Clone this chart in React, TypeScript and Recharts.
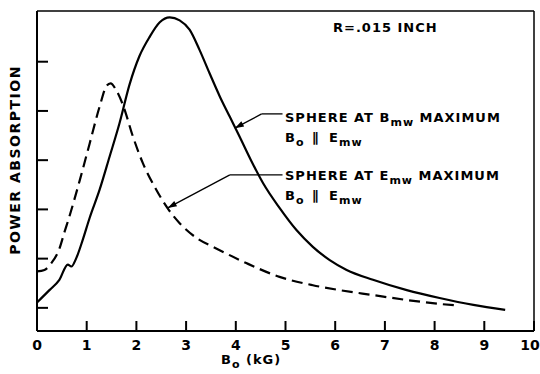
import React from 'react';
import { LineChart, Line, XAxis, YAxis, ReferenceLine } from 'recharts';

// B0 (kG) vs power absorption
const solidX = [0, 0.25, 0.45, 0.62, 0.69, 0.79, 0.92, 1.06, 1.26, 1.46, 1.66, 1.86, 2.06, 2.27, 2.47, 2.67, 2.87, 3.07, 3.27, 3.47, 3.68, 3.88, 4.08, 4.3, 4.55, 4.88, 5.22, 5.55, 5.89, 6.23, 6.76, 7.44, 8.1, 8.78, 9.42];
const solidY = [0.58, 0.83, 1.04, 1.35, 1.31, 1.48, 1.85, 2.3, 2.87, 3.54, 4.22, 5.0, 5.58, 5.98, 6.27, 6.37, 6.31, 6.12, 5.71, 5.24, 4.76, 4.35, 3.94, 3.48, 3.0, 2.5, 2.05, 1.71, 1.44, 1.24, 1.04, 0.83, 0.67, 0.53, 0.43];

const dashedX = [0, 0.15, 0.29, 0.45, 0.55, 0.65, 0.86, 1.06, 1.26, 1.4, 1.48, 1.6, 1.73, 1.93, 2.13, 2.4, 2.63, 2.87, 3.27, 3.54, 4.21, 4.88, 5.55, 6.09, 6.76, 7.44, 8.1, 8.45];
const dashedY = [1.21, 1.24, 1.38, 1.67, 2.0, 2.32, 3.06, 3.81, 4.56, 4.98, 5.03, 4.88, 4.59, 3.95, 3.41, 2.87, 2.49, 2.19, 1.85, 1.71, 1.38, 1.1, 0.93, 0.83, 0.73, 0.63, 0.55, 0.52];

const xTicks = [0, 1, 2, 3, 4, 5, 6, 7, 8, 9, 10];
const yTicks = [0.47, 1.47, 2.47, 3.47, 4.47, 5.47];

// leader lines for the two labels: [start, elbow, arrow tip]
const leaderB = [{ x: 4.94, y: 4.41 }, { x: 4.52, y: 4.41 }, { x: 3.98, y: 4.12 }];
const leaderE = [{ x: 4.94, y: 3.17 }, { x: 3.88, y: 3.17 }, { x: 2.63, y: 2.5 }];

const FONT = '"DejaVu Sans", sans-serif';

const toPoints = (xs: number[], ys: number[]) => xs.map((x, i) => ({ x, y: ys[i] }));
const solid = toPoints(solidX, solidY);
const dashed = toPoints(dashedX, dashedY);

const XTick = (props: any) => {
  const { x, y, payload } = props;
  // last label sits on the page edge; nudge it in so it stays whole
  const lx = payload.value === 10 ? x - 4 : x;
  return (
    <g>
      <line x1={x} y1={y} x2={x} y2={y - 10} stroke="#000" strokeWidth={2} />
      <text x={lx} y={y + 19} textAnchor="middle" fontFamily={FONT} fontWeight="bold" fontSize={14} fill="#000">
        {payload.value}
      </text>
    </g>
  );
};

const YTick = (props: any) => {
  const { x, y } = props;
  return <line x1={x} y1={y} x2={x + 11} y2={y} stroke="#000" strokeWidth={2} />;
};

const Plain = (props: any) => (
  <line x1={props.x1} y1={props.y1} x2={props.x2} y2={props.y2} stroke="#000" strokeWidth={1.3} />
);

const Arrow = (props: any) => {
  const { x1, y1, x2, y2 } = props;
  const a = Math.atan2(y2 - y1, x2 - x1);
  const len = 9;
  const w = 3;
  const bx = x2 - len * Math.cos(a);
  const by = y2 - len * Math.sin(a);
  const px = -Math.sin(a) * w;
  const py = Math.cos(a) * w;
  return (
    <g>
      <line x1={x1} y1={y1} x2={x2} y2={y2} stroke="#000" strokeWidth={1.3} />
      <polygon points={`${x2},${y2} ${bx + px},${by + py} ${bx - px},${by - py}`} fill="#000" />
    </g>
  );
};

const sub = { fontSize: 11, dy: 4 };

const App: React.FC = () => {
  return (
    <div style={{ position: 'absolute', left: 0, top: 0, width: 540, height: 374, background: '#fff' }}>
      <LineChart width={540} height={374} data={solid} margin={{ top: 11, right: 6, bottom: 13, left: 36 }}>
        <XAxis
          dataKey="x"
          type="number"
          domain={[0, 10]}
          ticks={xTicks}
          interval={0}
          tickSize={0}
          tickMargin={0}
          tickLine={false}
          tick={<XTick />}
          height={30}
          axisLine={{ stroke: '#000', strokeWidth: 2 }}
          allowDataOverflow
        />
        <YAxis
          type="number"
          domain={[0, 6.5]}
          ticks={yTicks}
          interval={0}
          tickSize={0}
          tickMargin={0}
          tickLine={false}
          tick={<YTick />}
          width={1}
          axisLine={{ stroke: '#000', strokeWidth: 2 }}
          allowDataOverflow
        />
        <ReferenceLine y={6.5} stroke="#000" strokeWidth={1.5} />
        <ReferenceLine x={10} stroke="#000" strokeWidth={1.5} />
        <Line data={solid} dataKey="y" type="monotone" stroke="#000" strokeWidth={2.2} dot={false} isAnimationActive={false} />
        <Line data={dashed} dataKey="y" type="monotone" stroke="#000" strokeWidth={2.2} strokeDasharray="11 6" dot={false} isAnimationActive={false} />
        <ReferenceLine segment={[leaderB[0], leaderB[1]]} shape={Plain} />
        <ReferenceLine segment={[leaderB[1], leaderB[2]]} shape={Arrow} />
        <ReferenceLine segment={[leaderE[0], leaderE[1]]} shape={Plain} />
        <ReferenceLine segment={[leaderE[1], leaderE[2]]} shape={Arrow} />
      </LineChart>
      <svg width={540} height={374} style={{ position: 'absolute', left: 0, top: 0, pointerEvents: 'none' }}>
        <g fontFamily={FONT} fontWeight="bold" fill="#000">
          <text x={333} y={32} fontSize={13} letterSpacing={1}>R=.015 INCH</text>
          <text x={285} y={122} fontSize={13} letterSpacing={1}>
            SPHERE AT B<tspan {...sub}>mw</tspan><tspan dy={-4}> MAXIMUM</tspan>
          </text>
          <text x={285} y={142} fontSize={13} letterSpacing={1}>
            B<tspan {...sub}>o</tspan><tspan dy={-4} letterSpacing={3}>  ∥ </tspan><tspan>E</tspan><tspan {...sub}>mw</tspan>
          </text>
          <text x={285} y={180} fontSize={13} letterSpacing={1}>
            SPHERE AT E<tspan {...sub}>mw</tspan><tspan dy={-4}> MAXIMUM</tspan>
          </text>
          <text x={285} y={200} fontSize={13} letterSpacing={1}>
            B<tspan {...sub}>o</tspan><tspan dy={-4} letterSpacing={3}>  ∥ </tspan><tspan>E</tspan><tspan {...sub}>mw</tspan>
          </text>
          <text x={221} y={364} fontSize={13} letterSpacing={1}>
            B<tspan {...sub}>o</tspan><tspan dy={-4}> (kG)</tspan>
          </text>
          <text
            x={0}
            y={0}
            fontSize={14}
            textAnchor="middle"
            letterSpacing={1.5}
            transform="translate(20 160) rotate(-90)"
          >
            POWER  ABSORPTION
          </text>
        </g>
      </svg>
    </div>
  );
};

export default App;
